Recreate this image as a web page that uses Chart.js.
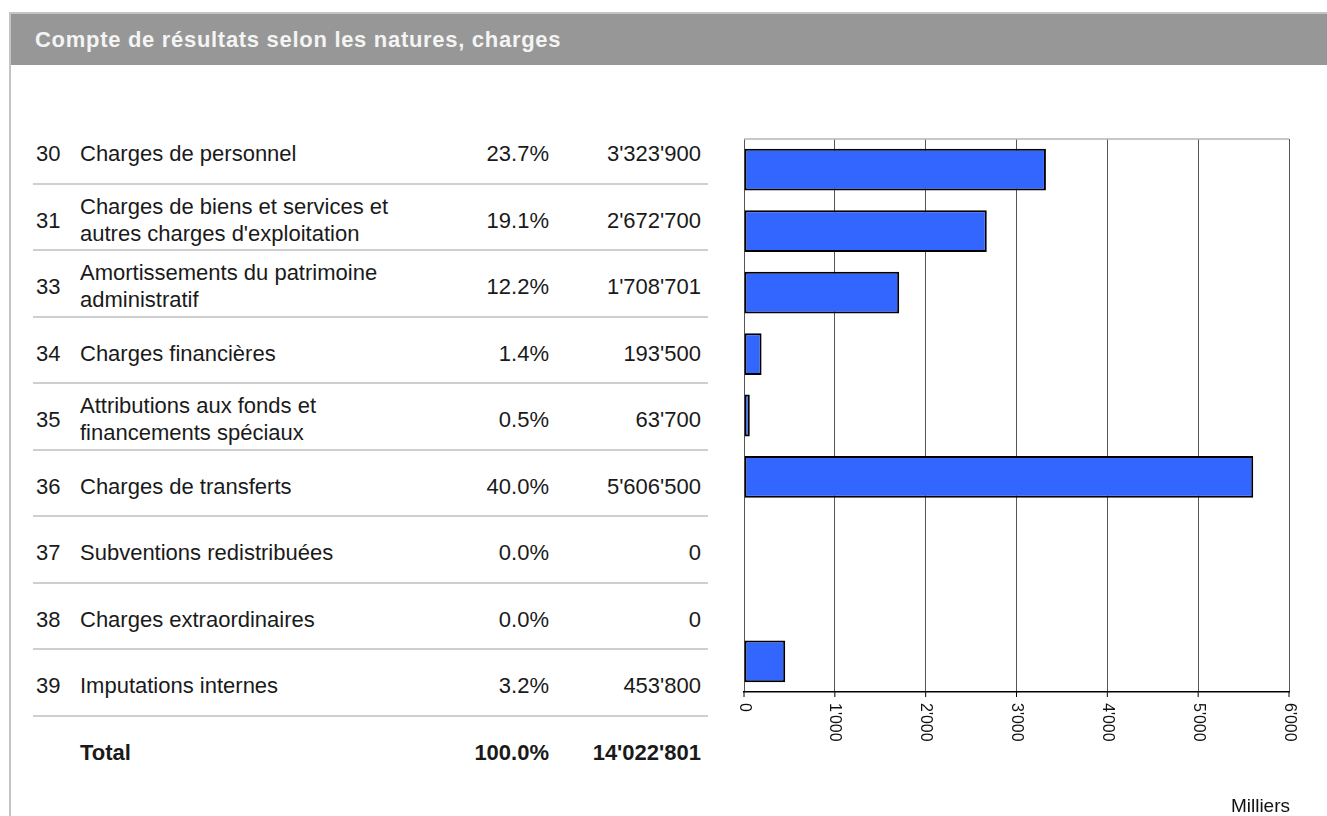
<!DOCTYPE html>
<html>
<head>
<meta charset="utf-8">
<script src="https://cdn.jsdelivr.net/npm/chart.js@4"></script>
<style>
  body { margin: 0; background: #fff; font-family: "Liberation Sans", Arial, sans-serif; }
  #panel { position: absolute; left: 9px; top: 12px; width: 1318px; height: 804px; border-left: 2px solid #c4c4c4; border-top: 2px solid #c4c4c4; box-sizing: border-box; }
  #header { position: absolute; left: 0; top: 0; right: 0; height: 51px; background: #979797; color: #f4f4f4; font-weight: bold; font-size: 22px; line-height: 51px; padding-left: 24px; letter-spacing: 0.7px; }
  #table { position: absolute; left: 33px; top: 118px; width: 675px; }
  .row { position: relative; height: 64.5px; border-bottom: 2px solid #cfcfcf; color: #1a1a1a; font-size: 22px; }
  .row.total { border-bottom: none; font-weight: bold; }
  .row div { position: absolute; top: calc(50% + 3px); transform: translateY(-50%); line-height: 27px; }
  .code { left: 3px; }
  .label { left: 47px; white-space: pre-line; }
  .pct { right: 159px; }
  .amt { right: 7px; }
  #chartBox { position: absolute; left: 700px; top: 0; width: 627px; height: 816px; }
  #milliers { position: absolute; right: 37px; top: 795px; font-size: 19px; color: #111; }
</style>
</head>
<body>
<div id="panel"><div id="header">Compte de résultats selon les natures, charges</div></div>
<div id="table"></div>
<div id="chartBox"><canvas id="chart"></canvas></div>
<div id="milliers">Milliers</div>
<script>
// Data
const codes = ["30", "31", "33", "34", "35", "36", "37", "38", "39"];
const labels = [
  "Charges de personnel",
  "Charges de biens et services et\nautres charges d'exploitation",
  "Amortissements du patrimoine\nadministratif",
  "Charges financières",
  "Attributions aux fonds et\nfinancements spéciaux",
  "Charges de transferts",
  "Subventions redistribuées",
  "Charges extraordinaires",
  "Imputations internes"
];
const percents = ["23.7%", "19.1%", "12.2%", "1.4%", "0.5%", "40.0%", "0.0%", "0.0%", "3.2%"];
const amounts = [3323900, 2672700, 1708701, 193500, 63700, 5606500, 0, 0, 453800];
const totalPct = "100.0%";
const totalAmt = 14022801;
const xTicks = [0, 1000, 2000, 3000, 4000, 5000, 6000];

function fmt(n) {
  return String(n).replace(/\B(?=(\d{3})+(?!\d))/g, "'");
}

// Table on the left
const table = document.getElementById('table');
function addRow(code, label, pct, amt, cls) {
  const row = document.createElement('div');
  row.className = 'row' + (cls ? ' ' + cls : '');
  row.innerHTML = `<div class="code">${code}</div><div class="label">${label}</div>` +
    `<div class="pct">${pct}</div><div class="amt">${amt}</div>`;
  table.appendChild(row);
}
codes.forEach((c, i) => addRow(c, labels[i], percents[i], fmt(amounts[i])));
addRow('', 'Total', totalPct, fmt(totalAmt), 'total');

// Bar chart on the right (values in thousands)
const values = amounts.map(a => a / 1000);

const tickPlugin = {
  id: 'rotTicks',
  afterDraw(chart) {
    const { ctx, chartArea, scales } = chart;
    const x = scales.x;
    ctx.save();
    // top frame line
    ctx.strokeStyle = '#b4b4b4';
    ctx.lineWidth = 1.5;
    ctx.beginPath();
    ctx.moveTo(chartArea.left, chartArea.top);
    ctx.lineTo(chartArea.right, chartArea.top);
    ctx.stroke();
    ctx.font = '16px "Liberation Sans", Arial, sans-serif';
    ctx.fillStyle = '#111';
    ctx.textBaseline = 'middle';
    ctx.textAlign = 'left';
    xTicks.forEach(v => {
      const px = x.getPixelForValue(v);
      ctx.strokeStyle = '#000';
      ctx.lineWidth = 1;
      ctx.beginPath();
      ctx.moveTo(px, chartArea.bottom);
      ctx.lineTo(px, chartArea.bottom + 5);
      ctx.stroke();
      ctx.save();
      ctx.translate(px, chartArea.bottom + 11);
      ctx.rotate(Math.PI / 2);
      ctx.fillText(fmt(v), 0, 0);
      ctx.restore();
    });
    ctx.restore();
  }
};

new Chart(document.getElementById('chart'), {
  type: 'bar',
  data: {
    labels: codes,
    datasets: [{
      data: values,
      backgroundColor: '#3366ff',
      borderColor: '#000',
      borderWidth: 2,
      borderSkipped: false,
      barPercentage: 0.68,
      categoryPercentage: 1
    }]
  },
  options: {
    indexAxis: 'y',
    responsive: true,
    maintainAspectRatio: false,
    animation: false,
    layout: { padding: { left: 36, right: 38, top: 139, bottom: 124 } },
    plugins: { legend: { display: false }, tooltip: { enabled: false } },
    scales: {
      x: {
        min: 0, max: 6000,
        afterBuildTicks: s => { s.ticks = xTicks.map(v => ({ value: v })); },
        ticks: { display: false },
        grid: { color: '#555', lineWidth: 1, drawTicks: false },
        border: { display: true, color: '#000', width: 1.5 }
      },
      y: {
        ticks: { display: false },
        grid: { display: false },
        border: { display: false }
      }
    }
  },
  plugins: [tickPlugin]
});
</script>
</body>
</html>
